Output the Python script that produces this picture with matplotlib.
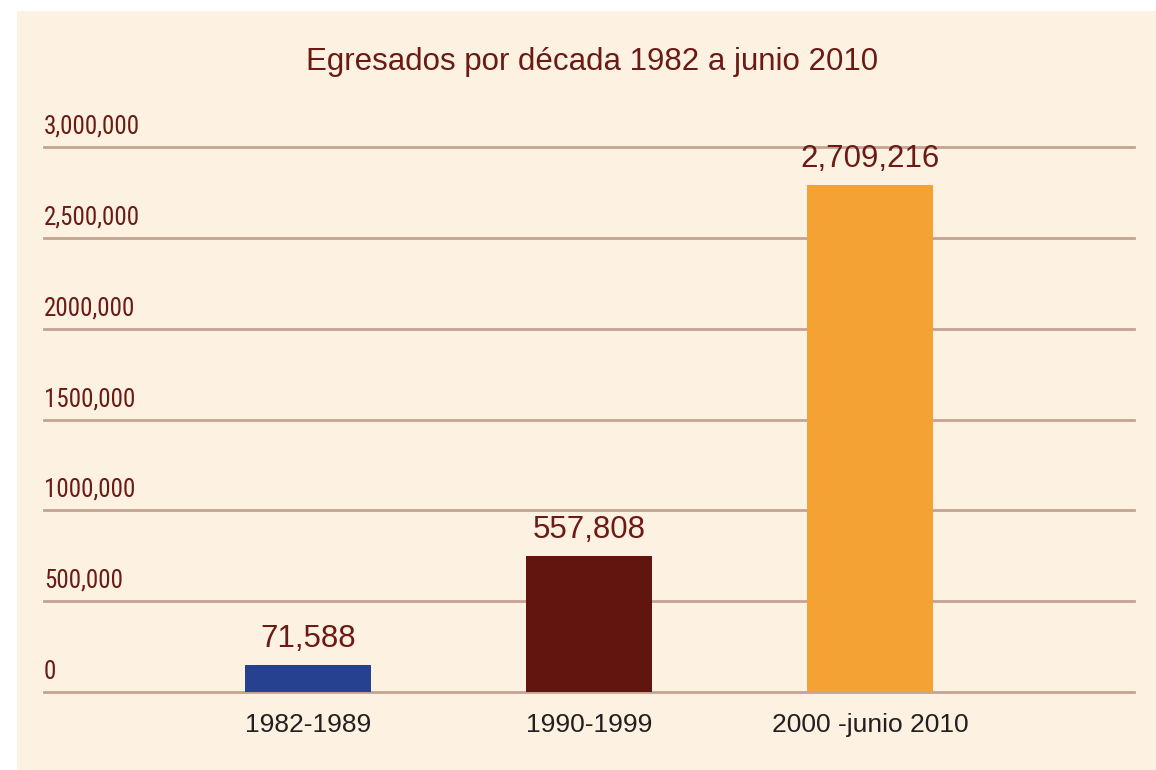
#Bar chart: egresados por decada, 1982 a junio 2010
import matplotlib
matplotlib.use("Agg")
import matplotlib.pyplot as plt
import matplotlib.transforms as mtransforms
from matplotlib.patches import Rectangle
from matplotlib import font_manager

#data
categories = ["1982-1989", "1990-1999", "2000 -junio 2010"]
value_labels = ["71,588", "557,808", "2,709,216"]   #numbers printed above bars
bar_heights = [148000, 748000, 2790000]            #heights as drawn in the picture
tick_values = [0, 500000, 1000000, 1500000, 2000000, 2500000, 3000000]
tick_labels = ["0", "500,000", "1000,000", "1500,000", "2000,000", "2,500,000", "3,000,000"]

bar_colors = ["#26418F", "#62140F", "#F4A233"]
maroon = "#6B1A14"
panel = "#FDF2E2"
gridc = "#C4A394"

#look for a narrow font for the y labels
names = set(f.name for f in font_manager.fontManager.ttflist)
narrow = None
for cand in ["Liberation Sans Narrow", "Roboto Condensed", "DejaVu Sans Condensed"]:
    if cand in names:
        narrow = cand
        break
cond_files = [f for f in font_manager.fontManager.ttflist
              if ("Condensed" in f.fname or "Narrow" in f.fname) and "Bold" not in f.fname
              and "Oblique" not in f.fname and "Italic" not in f.fname]

W, H = 1156, 770
fig = plt.figure(figsize=(W/100, H/100), dpi=100)
fig.patch.set_facecolor("white")

#cream panel behind everything
fig.patches.append(Rectangle((17/W, 0), 1 - 17/W, 1 - 11/H, transform=fig.transFigure,
                             facecolor=panel, edgecolor="none", zorder=-5))

ax = fig.add_axes([44/W, (H - 692)/H, (1134 - 44)/W, (692 - 147)/H])
ax.set_facecolor("none")
ax.set_zorder(2)
for s in ax.spines.values():
    s.set_visible(False)

x = [0, 1, 2]
ax.bar(x, bar_heights, width=0.448, color=bar_colors, zorder=3)
ax.set_xlim(-0.94, 2.94)
ax.set_ylim(0, 3000000)

if narrow is not None:
    tick_font = dict(family=narrow, fontsize=18)
elif cond_files:
    tick_font = dict(fontproperties=font_manager.FontProperties(fname=cond_files[0].fname, size=18))
else:
    tick_font = dict(family="Liberation Sans", fontsize=16)

#grid lines and their labels sitting above them
trans = mtransforms.blended_transform_factory(ax.transAxes, ax.transData)
for v, lab in zip(tick_values, tick_labels):
    ax.axhline(v, color=gridc, lw=2, zorder=1, clip_on=False)
    ax.annotate(lab, (0, v), xycoords=trans, xytext=(0, 6), textcoords="offset points",
                ha="left", va="bottom", color=maroon, **tick_font)
ax.set_yticks([])

ax.set_xticks(x)
ax.set_xticklabels(categories, fontsize=19, color="#231F20", family="Liberation Sans")
ax.tick_params(axis="x", length=0, pad=15)

for xi, h, lab in zip(x, bar_heights, value_labels):
    ax.annotate(lab, (xi, h), xytext=(0, 13), textcoords="offset points",
                ha="center", va="baseline", fontsize=22.5, color=maroon,
                family="Liberation Sans")

fig.text(592/W, 1 - 62/H, "Egresados por década 1982 a junio 2010", ha="center", va="center",
         fontsize=22.5, color=maroon, family="Liberation Sans")

fig.savefig("out.png", dpi=100, facecolor=fig.get_facecolor())
